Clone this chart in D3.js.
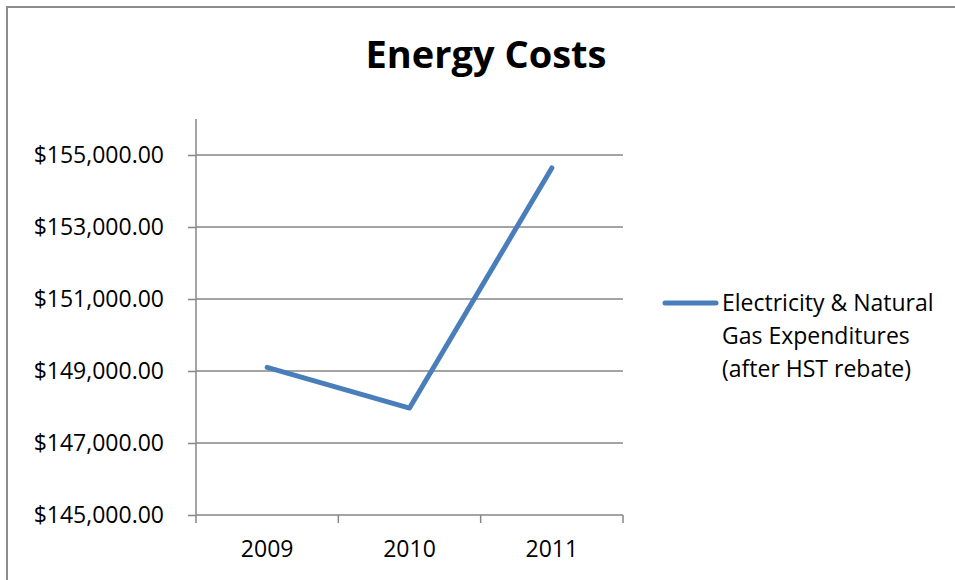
<!DOCTYPE html>
<html>
<head>
<meta charset="utf-8">
<script src="https://cdn.jsdelivr.net/npm/d3@7"></script>
<style>
  body { margin: 0; background: #fff; }
  text { font-family: "Open Sans", sans-serif; fill: #000; }
</style>
</head>
<body>
<script>
// chart data
const years = ["2009", "2010", "2011"];
const costs = [149100, 147970, 154640];
const yTicks = [145000, 147000, 149000, 151000, 153000, 155000];
const legendLines = ["Electricity & Natural", "Gas Expenditures", "(after HST rebate)"];

let width = 955, height = 580;
let margin = { top: 119, bottom: 65, left: 196, right: 332 };

let svg = d3.select('body').append('svg')
    .attr('width', width)
    .attr('height', height);

// chart frame (right/bottom edges fall outside the picture)
svg.append('rect')
   .attr('x', 7).attr('y', 7)
   .attr('width', width + 20).attr('height', height + 20)
   .attr('fill', 'none')
   .attr('stroke', '#8c8c8c')
   .attr('stroke-width', 2);

// title
svg.append('text')
   .attr('x', 486).attr('y', 68)
   .attr('text-anchor', 'middle')
   .style('font-size', '38px')
   .style('font-weight', 'bold')
   .text('Energy Costs');

const xScale = d3.scaleBand()
    .domain(years)
    .range([margin.left, width - margin.right]);

const yScale = d3.scaleLinear()
    .domain([145000, 156000])
    .range([height - margin.bottom, margin.top]);

// gridlines
svg.append('g')
   .selectAll('line')
   .data(yTicks.slice(1))
   .enter().append('line')
   .attr('x1', margin.left).attr('x2', width - margin.right)
   .attr('y1', d => yScale(d)).attr('y2', d => yScale(d))
   .attr('stroke', '#868686')
   .attr('stroke-width', 1.5);

// y axis
let yAxis = svg.append('g')
    .attr('transform', `translate(${margin.left}, 0)`)
    .call(d3.axisLeft(yScale).tickValues(yTicks).tickSize(8).tickPadding(24)
        .tickFormat(d => '$' + d3.format(',.2f')(d)));

// x axis
let xAxis = svg.append('g')
    .attr('transform', `translate(0, ${height - margin.bottom})`)
    .call(d3.axisBottom(xScale).tickSize(0).tickPadding(26));

// x ticks sit on band edges
svg.append('g')
   .selectAll('line')
   .data(years.map(d => xScale(d)).concat([xScale.range()[1]]))
   .enter().append('line')
   .attr('x1', d => d).attr('x2', d => d)
   .attr('y1', height - margin.bottom).attr('y2', height - margin.bottom + 8)
   .attr('stroke', '#868686')
   .attr('stroke-width', 1.5);

[xAxis, yAxis].forEach(ax => {
    ax.select('.domain').attr('stroke', '#868686').attr('stroke-width', 1.5);
    ax.selectAll('.tick line').attr('stroke', '#868686').attr('stroke-width', 1.5);
    ax.selectAll('.tick text')
      .style('font-size', '23px')
      .style('font-family', '"Open Sans", sans-serif')
      .attr('fill', '#000');
});
xAxis.select('.domain').attr('d', `M${margin.left},0H${width - margin.right}`);
yAxis.select('.domain').attr('d', `M0,${yScale(145000)}V${margin.top}`);

// the line
const line = d3.line()
    .x((d, i) => xScale(years[i]) + xScale.bandwidth() / 2)
    .y(d => yScale(d));

svg.append('path')
   .datum(costs)
   .attr('d', line)
   .attr('fill', 'none')
   .attr('stroke', '#4a7ebb')
   .attr('stroke-width', 5)
   .attr('stroke-linecap', 'round')
   .attr('stroke-linejoin', 'round');

// legend
svg.append('line')
   .attr('x1', 665).attr('x2', 716)
   .attr('y1', 303).attr('y2', 303)
   .attr('stroke', '#4a7ebb')
   .attr('stroke-width', 5)
   .attr('stroke-linecap', 'round');

svg.append('g')
   .selectAll('text')
   .data(legendLines)
   .enter().append('text')
   .attr('x', 722)
   .attr('y', (d, i) => 311 + i * 33)
   .style('font-size', '23px')
   .text(d => d);
</script>
</body>
</html>
